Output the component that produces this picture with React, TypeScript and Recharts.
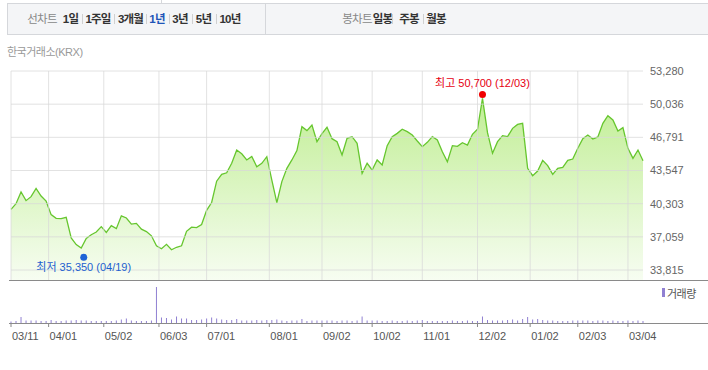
import React from 'react';
import { ComposedChart, Area, XAxis, YAxis, ReferenceLine, ReferenceDot, BarChart, Bar } from 'recharts';

// closing price, one point every 2 sessions (03/11 -> 03/07)
const prices = [
  39750, 40300, 41450, 40600, 40990, 41800, 41050, 40550, 39230, 38870,
  38840, 38970, 36950, 36300, 35970, 36900, 37270, 37530, 38060, 37490,
  38150, 37860, 39110, 38900, 38300, 38380, 37810, 37570, 37160, 36180,
  35900, 36330, 35800, 36040, 36180, 37600, 38000, 37970, 38270, 39650,
  40420, 42500, 43170, 43320, 44250, 45550, 45180, 44580, 44930, 43920,
  44250, 44900, 42600, 40400, 42460, 43760, 44580, 45490, 47840, 47450,
  48000, 46370, 47150, 47770, 46660, 46370, 45070, 46700, 46860, 46210,
  43270, 44250, 43600, 44580, 44090, 45980, 46860, 47180, 47580, 47350,
  47020, 46430, 45880, 46300, 46860, 46530, 45390, 44410, 45980, 45910,
  46270, 46040, 47090, 47580, 50600, 47250, 45230, 46370, 46960, 46860,
  47670, 48060, 48160, 43760, 43040, 43500, 44540, 44020, 43170, 43760,
  43860, 44540, 44670, 45720, 46660, 47020, 46630, 46830, 48160, 48910,
  48490, 47410, 47740, 45720, 44740, 45550, 44500,
];

// volume (만주)
const volumes = [
  15, 20, 60, 25, 25, 25, 20, 20, 30, 20,
  20, 25, 25, 30, 25, 25, 20, 20, 20, 20,
  20, 25, 35, 45, 25, 20, 20, 20, 25, 360,
  55, 50, 35, 65, 45, 45, 30, 30, 35, 45,
  55, 45, 35, 30, 30, 40, 25, 25, 25, 30,
  25, 30, 30, 35, 25, 20, 25, 25, 40, 20,
  25, 25, 25, 25, 25, 20, 25, 25, 20, 25,
  65, 25, 25, 25, 20, 20, 25, 20, 20, 25,
  20, 25, 30, 20, 20, 20, 20, 20, 25, 20,
  20, 25, 20, 20, 65, 30, 25, 25, 25, 30,
  35, 25, 40, 60, 35, 40, 30, 25, 25, 20,
  20, 20, 25, 25, 25, 25, 20, 25, 25, 20,
  25, 20, 20, 25, 20, 25, 20,
];

const tickSessions = [0, 15, 37, 59, 78, 103, 124, 144, 164, 186, 207, 226, 246];
const tickLabels = ['03/11', '04/01', '05/02', '06/03', '07/01', '08/01', '09/02', '10/02', '11/01', '12/02', '01/02', '02/03', '03/04'];
const yTicks = [33815, 37059, 40303, 43547, 46791, 50036, 53280];

const high = { session: 188, value: 50700, date: '12/03' };
const low = { session: 29, value: 35350, date: '04/19' };

const data = prices.map((p, i) => ({ s: i * 2, price: p, vol: volumes[i] }));

const FONT = "'Liberation Sans', 'Noto Sans CJK KR', sans-serif";
const fmt = (v: number) => v.toLocaleString('en-US');

// tab labels, x = centre
const tabs = [
  { t: '선차트', x: 42, dim: true }, { t: '1일', x: 70.5 }, { t: '1주일', x: 98 }, { t: '3개월', x: 130.5 },
  { t: '1년', x: 157, on: true }, { t: '3년', x: 180 }, { t: '5년', x: 203.5 }, { t: '10년', x: 230 },
  { t: '봉차트', x: 357, dim: true }, { t: '일봉', x: 382.5 }, { t: '주봉', x: 409 }, { t: '월봉', x: 436 },
];
const seps = [82, 114, 146, 169, 192, 216, 392, 423];

const DateTick = (props: any) => {
  const { x, y, payload } = props;
  return (
    <text x={x + 1} y={y} dy={9} fontSize={11} fill="#555" fontFamily={FONT} textAnchor="start">
      {tickLabels[tickSessions.indexOf(payload.value)]}
    </text>
  );
};

const HighDot = (p: any) => (
  <g>
    <circle cx={p.cx} cy={p.cy - 3} r={3.5} fill="#f00000" />
    <text x={p.cx} y={p.cy - 10} textAnchor="middle" fontSize={11} fill="#e60012" fontFamily={FONT}>
      {`최고 ${fmt(high.value)} (${high.date})`}
    </text>
  </g>
);

const LowDot = (p: any) => (
  <g>
    <circle cx={p.cx} cy={p.cy + 3} r={3.5} fill="#1d63d6" />
    <text x={p.cx} y={p.cy + 17} textAnchor="middle" fontSize={11} fill="#1d5fcf" fontFamily={FONT}>
      {`최저 ${fmt(low.value)} (${low.date})`}
    </text>
  </g>
);

export default function App() {
  return (
    <div style={{ position: 'absolute', left: 0, top: 0, width: 708, height: 370, background: '#fff', fontFamily: FONT, overflow: 'hidden' }}>
      {/* tab bar */}
      <div style={{ position: 'absolute', left: 161, top: 0, width: 1, height: 3, background: '#d5d7db' }} />
      <div style={{ position: 'absolute', left: 7, top: 3, width: 710, height: 30, background: '#f4f5f7', border: '1px solid #d5d7db' }} />
      <div style={{ position: 'absolute', left: 265, top: 4, width: 1, height: 30, background: '#d5d7db' }} />
      {tabs.map((t: any) => (
        <div
          key={t.t}
          style={{
            position: 'absolute', left: t.x, top: 12, transform: 'translateX(-50%)', whiteSpace: 'nowrap',
            fontSize: 11.5, letterSpacing: -0.8, lineHeight: '14px',
            fontWeight: t.dim ? 400 : 700, color: t.on ? '#1f55b8' : t.dim ? '#888' : '#333',
          }}
        >
          {t.t}
        </div>
      ))}
      {seps.map((x) => (
        <div key={x} style={{ position: 'absolute', left: x, top: 14, width: 1, height: 10, background: '#d0d0d0' }} />
      ))}
      <div style={{ position: 'absolute', left: 7, top: 43, fontSize: 11, color: '#999', letterSpacing: -0.5 }}>한국거래소(KRX)</div>

      {/* price */}
      <div style={{ position: 'absolute', left: 0, top: 0 }}>
        <ComposedChart width={708} height={282} data={data} margin={{ top: 71, right: 5, bottom: 1, left: 11 }}>
          <defs>
            <linearGradient id="pfill" x1="0" y1="0" x2="0" y2="1">
              <stop offset="0%" stopColor="#c1ee95" />
              <stop offset="100%" stopColor="#f7fdf2" />
            </linearGradient>
          </defs>
          <XAxis type="number" dataKey="s" domain={[0, 252]} hide />
          <YAxis
            orientation="right"
            width={60}
            domain={[32740, 53280]}
            ticks={yTicks}
            interval={0}
            allowDataOverflow
            tickLine={false}
            axisLine={false}
            tickSize={5}
            tickMargin={2}
            tick={{ fill: '#666', fontSize: 11, fontFamily: FONT }}
            tickFormatter={fmt}
          />
          <Area type="linear" dataKey="price" stroke="#66c62e" strokeWidth={1.3} fill="url(#pfill)" fillOpacity={1} isAnimationActive={false} dot={false} activeDot={false} />
          {yTicks.map((v) => (
            <ReferenceLine key={'y' + v} y={v} stroke="#d8d8d8" strokeOpacity={0.75} />
          ))}
          {tickSessions.map((s) => (
            <ReferenceLine key={'x' + s} x={s} stroke="#d8d8d8" strokeOpacity={0.75} />
          ))}
          <ReferenceDot x={high.session} y={high.value} shape={HighDot} />
          <ReferenceDot x={low.session} y={low.value} shape={LowDot} />
        </ComposedChart>
      </div>

      {/* volume */}
      <div style={{ position: 'absolute', left: 0, top: 281 }}>
        <BarChart width={708} height={89} data={data} margin={{ top: 2, right: 65, bottom: 0, left: 11 }}>
          <XAxis
            type="number"
            dataKey="s"
            domain={[0, 252]}
            ticks={tickSessions}
            interval={0}
            height={47}
            axisLine={false}
            tickLine={{ stroke: '#888' }}
            tickSize={4}
            tickMargin={4}
            tick={DateTick}
          />
          <YAxis hide domain={[0, 400]} />
          <Bar dataKey="vol" fill="#9080d2" barSize={1} isAnimationActive={false} />
        </BarChart>
      </div>

      <div style={{ position: 'absolute', left: 9, top: 280, width: 699, height: 1, background: '#8a8a8a' }} />
      <div style={{ position: 'absolute', left: 9, top: 323, width: 699, height: 1, background: '#8a8a8a' }} />
      <div style={{ position: 'absolute', left: 662, top: 288, width: 3, height: 9, background: '#9080d2' }} />
      <div style={{ position: 'absolute', left: 667, top: 285, fontSize: 11, color: '#555', letterSpacing: -0.5 }}>거래량</div>
    </div>
  );
}
